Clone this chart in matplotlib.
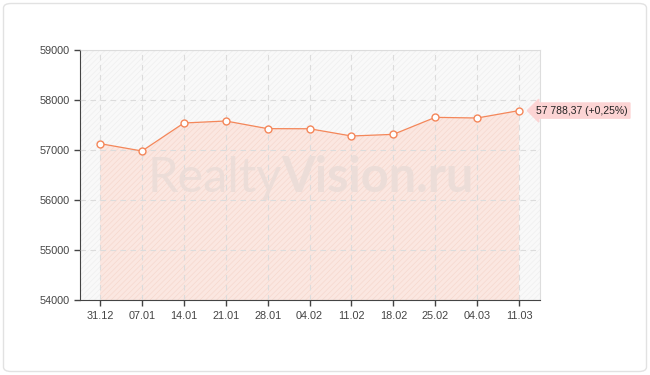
import matplotlib
matplotlib.use("Agg")
import matplotlib.pyplot as plt
from matplotlib.patches import FancyBboxPatch
import numpy as np

# data
dates = ['31.12', '07.01', '14.01', '21.01', '28.01', '04.02',
         '11.02', '18.02', '25.02', '04.03', '11.03']
prices = [57127, 56980, 57540, 57580, 57427, 57425,
          57280, 57313, 57653, 57640, 57788.37]
last_label = '57 788,37 (+0,25%)'
yticks = [54000, 55000, 56000, 57000, 58000, 59000]

line_col = '#f4875a'
fill_col = '#fbe7e1'

plt.rcParams['font.family'] = ['Liberation Sans', 'DejaVu Sans']
plt.rcParams['hatch.linewidth'] = 0.5

fig = plt.figure(figsize=(6.5, 3.75), dpi=100)
fig.patch.set_facecolor('white')

# card frame
card = FancyBboxPatch((3.5 / 650, 3.5 / 375), 643 / 650, 368 / 375,
                      boxstyle='round,pad=0,rounding_size=0.012',
                      transform=fig.transFigure, fc='none', ec='#e2e2e2',
                      lw=1, zorder=-1)
fig.patches.append(card)

ax = fig.add_axes([80 / 650, 75 / 375, 460 / 650, 250 / 375])
ax.set_facecolor('#f9f9f9')
x = np.arange(len(dates))

# hatched background
ax.fill_between([-0.5, 10.6], 54000, 59000, facecolor='none',
                edgecolor='#efefef', hatch='//////', lw=0, zorder=0)

ax.fill_between(x, prices, 54000, facecolor=fill_col, edgecolor='#f6d8ce',
                hatch='//////', lw=0, zorder=1)

ax.grid(True, color='#dcdcdc', ls=(0, (5, 4)), lw=0.8, zorder=2)
ax.set_axisbelow(False)

ax.plot(x, prices, color=line_col, lw=0.9, zorder=4)
ax.plot(x, prices, 'o', ms=5, mfc='white', mec=line_col, mew=1, zorder=5)

# watermark
ax.text(0.438, 0.49, 'Realty', transform=ax.transAxes, ha='right',
        va='center', fontsize=35, color='#ecddd8', zorder=3, family='Lato')
ax.text(0.438, 0.49, 'Vision.ru', transform=ax.transAxes, ha='left',
        va='center', fontsize=35, color='#ecddd8', fontweight='bold',
        zorder=3, family='Lato')

ax.annotate(last_label, xy=(x[-1], prices[-1]), xytext=(12, 0),
            textcoords='offset points', ha='left', va='center', fontsize=7.5,
            color='#222222', zorder=6, annotation_clip=False,
            bbox=dict(boxstyle='larrow,pad=0.25', fc='#fcd4d4', ec='#fcd4d4'))

ax.set_xlim(-0.48, 10.5)
ax.set_ylim(54000, 59000)
ax.set_xticks(x)
ax.set_xticklabels(dates)
ax.set_yticks(yticks)
ax.tick_params(labelsize=7.8, colors='#444444', length=4, width=1)
ax.tick_params(axis='x', pad=4)

for s in ['top', 'right']:
    ax.spines[s].set_color('#dddddd')
for s in ['left', 'bottom']:
    ax.spines[s].set_color('#444444')

fig.savefig('out.png', dpi=100)
